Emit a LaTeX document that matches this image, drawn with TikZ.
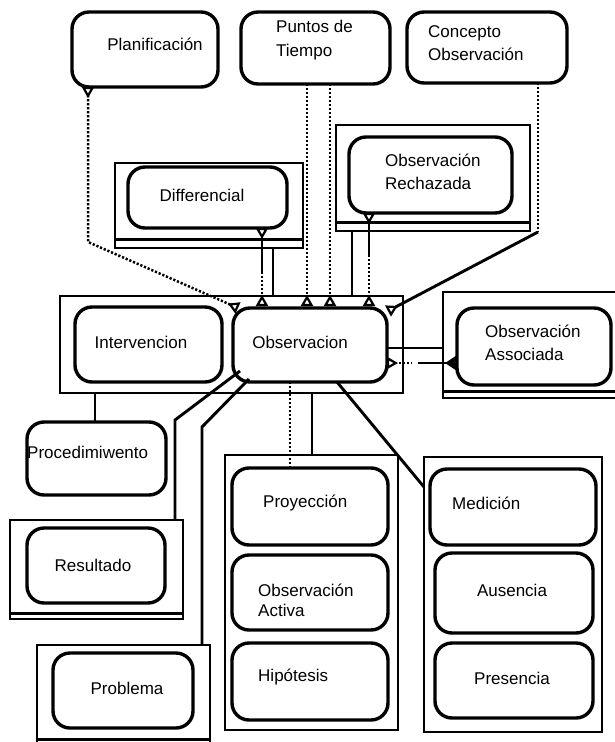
\documentclass[tikz,border=0pt]{standalone}
\usepackage{fontspec}
\setmainfont{Liberation Sans}
\usetikzlibrary{arrows.meta,fit}
\begin{document}
\begin{tikzpicture}[x=1pt,y=-1pt,
  rbox/.style={draw, line width=3.4pt, rounded corners=17pt, inner sep=0pt},
  frame/.style={draw, line width=2.9pt, inner sep=0pt},
  lbl/.style={font=\fontsize{17}{23}\selectfont, inner sep=0pt, align=left},
  conn/.style={line width=2.9pt},
  dotl/.style={line width=2.5pt, dash pattern=on 2.2pt off 1.8pt},
  rtri/.tip={Triangle[reversed, length=11pt, width=12pt, line width=2.2pt, fill=white]},
  btri/.tip={Triangle[reversed, length=12pt, width=15pt]},
]
\path[use as bounding box, fill=white] (0,0) rectangle (615,742);

% ---------- top row ----------
\node[rbox, fit={(72,12)(218,87)}] (planif) {};
\node[lbl] (planifT) at (155,44) {Planificación};
\node[rbox, fit={(241,12)(390,84)}] (puntos) {};
\node[lbl, anchor=west, font=\fontsize{17}{24}\selectfont] (puntosT) at (276,40) {Puntos de\\Tiempo};
\node[rbox, fit={(407,12)(567,83)}] (concepto) {};
\node[lbl, anchor=west] (conceptoT) at (428,43) {Concepto\\Observación};

% ---------- Differencial ----------
\node[frame, fit={(115,163)(303,248)}] (diffF) {};
\draw[conn] ([yshift=10pt]diffF.south west) -- ([yshift=10pt]diffF.south east);
\node[rbox, fill=white, fit={(128,167)(287,228)}] (diff) {};
\node[lbl] (diffT) at (202,195) {Differencial};

% ---------- Observación Rechazada ----------
\node[frame, fit={(336,125)(530,231)}] (rechF) {};
\draw[conn] ([yshift=10pt]rechF.south west) -- ([yshift=10pt]rechF.south east);
\node[rbox, fill=white, fit={(349,137)(512,213)}] (rech) {};
\node[lbl, anchor=west] (rechT) at (385,172) {Observación\\Rechazada};

% ---------- Observacion group ----------
\node[frame, fit={(60,296)(403,393)}] (obsF) {};
\node[rbox, fit={(75,307)(222,382)}] (interv) {};
\node[lbl] (intervT) at (141,342) {Intervencion};
\node[rbox, fit={(233,308)(387,382)}] (obs) {};
\node[lbl] (obsT) at (300,342) {Observacion};

% ---------- Observación Associada ----------
\node[frame, fit={(443,292)(622,398)}] (assocF) {};
\draw[conn] ([yshift=8pt]assocF.south west) -- ([yshift=8pt]assocF.south east);
\node[rbox, fit={(457,308)(611,385)}] (assoc) {};
\node[lbl, anchor=west] (assocT) at (485,343) {Observación\\Associada};

% ---------- left column ----------
\node[rbox, fit={(27,422)(166,495)}] (proc) {};
\node[lbl, anchor=west] (procT) at (27,452) {Procedimiwento};
\node[frame, fit={(10,520)(183,619)}] (resF) {};
\draw[conn] ([yshift=7pt]resF.south west) -- ([yshift=7pt]resF.south east);
\node[rbox, fit={(27,528)(165,603)}] (res) {};
\node[lbl] (resT) at (93,565) {Resultado};
\node[frame, fit={(37,645)(210,746)}] (probF) {};
\draw[conn] ([yshift=8pt]probF.south west) -- ([yshift=8pt]probF.south east);
\node[rbox, fit={(53,653)(193,728)}] (prob) {};
\node[lbl] (probT) at (127,688) {Problema};

% ---------- middle column ----------
\node[frame, fit={(225,455)(398,730)}] (midF) {};
\node[rbox, fit={(232,468)(388,545)}] (proy) {};
\node[lbl, anchor=west] (proyT) at (263,503) {Proyección};
\node[rbox, fit={(232,555)(388,630)}] (activa) {};
\node[lbl, anchor=west, font=\fontsize{17}{20}\selectfont] (activaT) at (258,600) {Observación\\Activa};
\node[rbox, fit={(232,643)(388,720)}] (hipo) {};
\node[lbl, anchor=west] (hipoT) at (258,677) {Hipótesis};

% ---------- right column ----------
\node[frame, fit={(424,457)(602,732)}] (rightF) {};
\node[rbox, fit={(430,469)(596,545)}] (medic) {};
\node[lbl, anchor=west] (medicT) at (452,503) {Medición};
\node[rbox, fit={(435,553)(593,633)}] (ausen) {};
\node[lbl] (ausenT) at (512,590) {Ausencia};
\node[rbox, fit={(435,643)(593,718)}] (presen) {};
\node[lbl] (presenT) at (512,678) {Presencia};

% ---------- attachment points ----------
\coordinate (plA) at (88,87);
\coordinate (plB) at (88,242);
\coordinate (plC) at (238,308);
\coordinate (puA) at (307,84);
\coordinate (puB) at (307,306);
\coordinate (puC) at (330,84);
\coordinate (puD) at (330,306);
\coordinate (coA) at (538,83);
\coordinate (coB) at (538,232);
\coordinate (coC) at (388,311);
\coordinate (dfA) at (262,228);
\coordinate (dfB) at (262,272);
\coordinate (dfC) at (262,306);
\coordinate (dfD) at (273,248);
\coordinate (dfE) at (273,296);
\coordinate (rcA) at (369,213);
\coordinate (rcB) at (369,255);
\coordinate (rcC) at (369,306);
\coordinate (rcD) at (352,231);
\coordinate (rcE) at (352,296);
\coordinate (asA) at (387,348);
\coordinate (asB) at (443,348);
\coordinate (asC) at (387,363);
\coordinate (asD) at (412,363);
\coordinate (asE) at (418,363);
\coordinate (asF) at (457,363);
\coordinate (ivA) at (95,393);
\coordinate (ivB) at (95,422);
\coordinate (laA) at (240,371);
\coordinate (laB) at (175,420);
\coordinate (laC) at (175,520);
\coordinate (lbA) at (249,379);
\coordinate (lbB) at (202,427);
\coordinate (lbC) at (202,645);
\coordinate (mdA) at (290,382);
\coordinate (mdB) at (290,468);
\coordinate (mdC) at (312,393);
\coordinate (mdD) at (312,455);
\coordinate (rtA) at (337,382);
\coordinate (rtB) at (424,487);

% ---------- connectors ----------
\draw[dotl, {rtri}-{rtri}] (plA) -- (plB) -- (plC);
\draw[dotl, -{rtri}] (puA) -- (puB);
\draw[dotl, -{rtri}] (puC) -- (puD);
\draw[dotl] (coA) -- (coB);
\draw[conn, -{rtri}] (coB) -- (coC);
\draw[conn, {rtri}-] (dfA) -- (dfB);
\draw[dotl, -{rtri}] (dfB) -- (dfC);
\draw[conn] (dfD) -- (dfE);
\draw[conn, {rtri}-] (rcA) -- (rcB);
\draw[dotl, -{rtri}] (rcB) -- (rcC);
\draw[conn] (rcD) -- (rcE);
\draw[conn] (asA) -- (asB);
\draw[dotl, {rtri}-] (asC) -- (asD);
\draw[conn, -{btri}] (asE) -- (asF);
\draw[conn] (ivA) -- (ivB);
\draw[conn] (laA) -- (laB) -- (laC);
\draw[conn] (lbA) -- (lbB) -- (lbC);
\draw[dotl] (mdA) -- (mdB);
\draw[conn] (mdC) -- (mdD);
\draw[conn] (rtA) -- (rtB);
\end{tikzpicture}
\end{document}
